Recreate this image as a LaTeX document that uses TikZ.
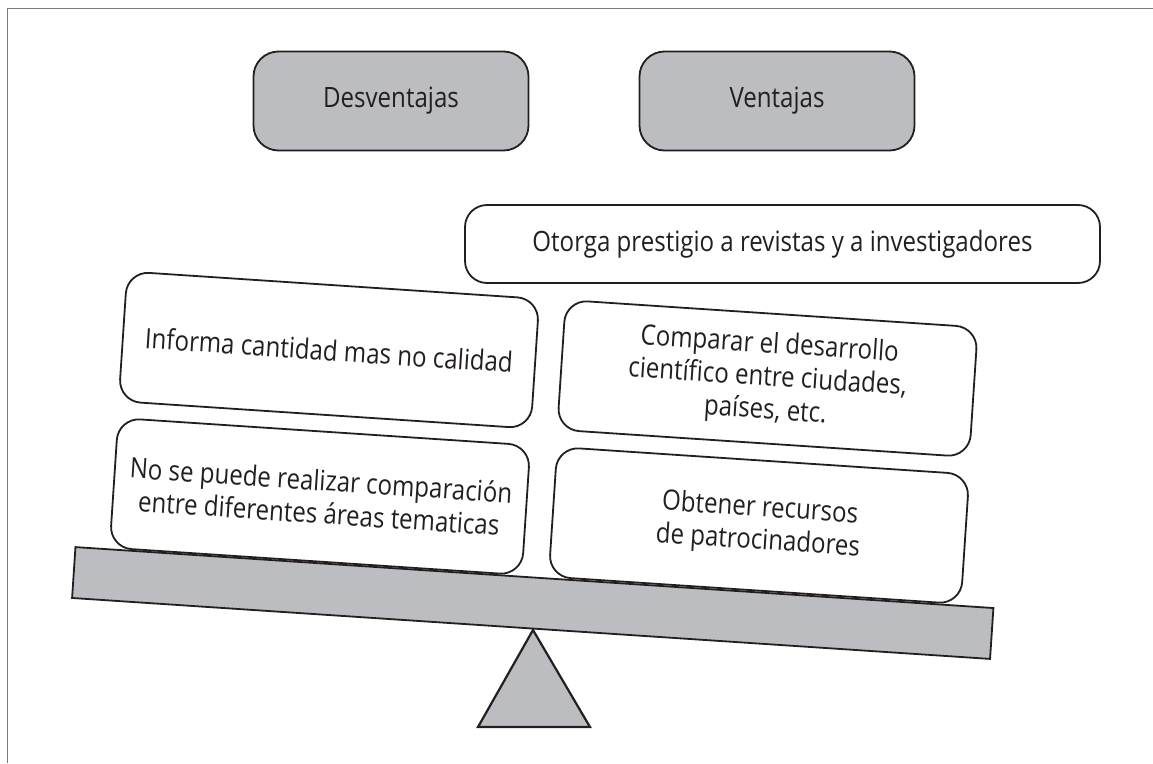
\documentclass[tikz,border=0pt]{standalone}
\usepackage{fontspec}
\setmainfont{Open Sans}[FakeStretch=0.86]
\definecolor{ink}{HTML}{231F20}
\definecolor{boxgray}{HTML}{BCBDC0}
\definecolor{framegray}{HTML}{7A7A7A}
\begin{document}
\begin{tikzpicture}[x=1pt,y=-1pt,
  every node/.style={text=ink},
  headbox/.style={draw=ink, line width=1.8pt, fill=boxgray, rounded corners=25pt,
    minimum width=275pt, minimum height=99pt, inner sep=0pt,
    font=\fontsize{28}{33}\selectfont},
  plainbox/.style={draw=ink, line width=1.8pt, fill=white, rounded corners=22pt,
    inner sep=0pt, align=center, font=\fontsize{28}{33}\selectfont},
  tiltbox/.style={plainbox, rotate=-3.8, minimum width=413pt, minimum height=130pt},
  beamshape/.style={draw=ink, line width=1.8pt, fill=boxgray, inner sep=0pt,
    rotate=-3.8, minimum width=920pt, minimum height=51pt}
]
\useasboundingbox (0,0) rectangle (1153,763);
\draw[framegray, line width=1pt] (7,763) -- (7,8) -- (1153,8);

\node[headbox] (desv) at (391,101) {Desventajas};
\node[headbox] (vent) at (777,101) {Ventajas};

\node[plainbox, minimum width=635pt, minimum height=78pt] (otorga) at (782.5,244)
  {Otorga prestigio a revistas y a investigadores};

\node[tiltbox] (informa) at (329,350) {Informa cantidad mas no calidad};
\node[tiltbox] (comparar) at (767.5,378.5)
  {Comparar el desarrollo\\científico entre ciudades,\\países, etc.};
\node[tiltbox] (nose) at (320,496.5)
  {No se puede realizar comparación\\entre diferentes áreas tematicas};
\node[tiltbox] (obtener) at (759,525.5)
  {Obtener recursos\\de patrocinadores};

\node[beamshape] (beam) at (532.75,603) {};

\draw[draw=ink, line width=2.2pt, fill=boxgray, line join=miter]
  (533,630) -- (590,727) -- (478,727) -- cycle;
\end{tikzpicture}
\end{document}
